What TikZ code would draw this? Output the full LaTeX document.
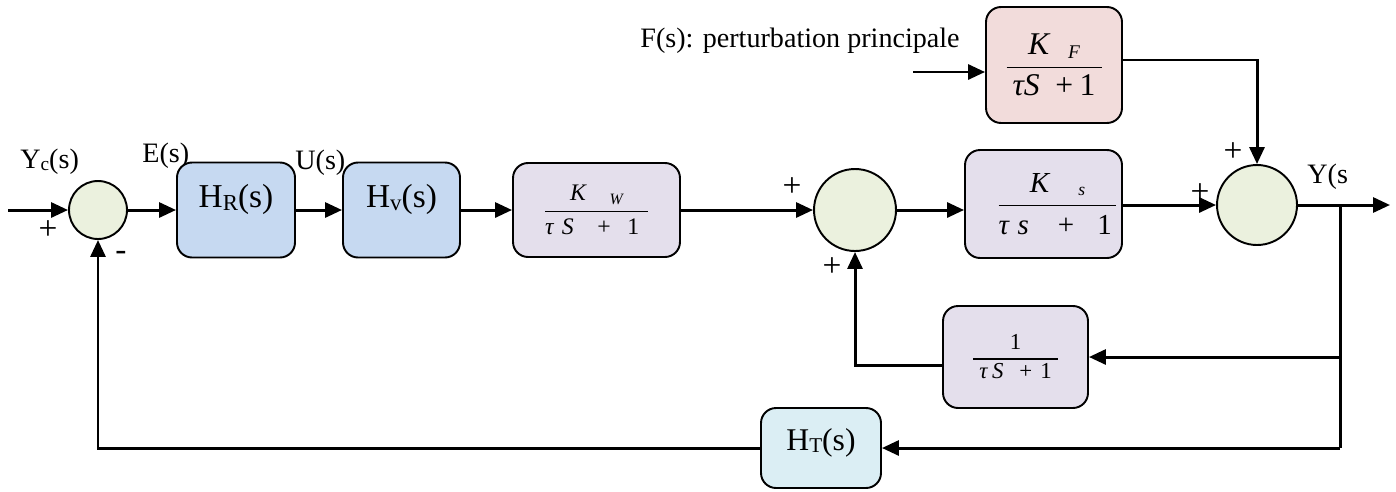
\documentclass[tikz,border=0pt]{standalone}
\usepackage{fontspec}
\setmainfont{Liberation Serif}
\usepackage{amsmath}
\usetikzlibrary{arrows.meta}

\definecolor{ctrlblue}{HTML}{C6D9F1}
\definecolor{procviolet}{HTML}{E4DFEC}
\definecolor{distpink}{HTML}{F2DCDB}
\definecolor{sensorcyan}{HTML}{DBEEF4}
\definecolor{sumgreen}{HTML}{EBF1DE}

% transfer function written as a fraction with a thin bar
\newcommand{\xferfrac}[2]{$\genfrac{}{}{0.8pt}{0}{\mbox{#1}}{\mbox{#2}}$}
\newcommand{\fsz}[1]{\fontsize{#1}{#1}\selectfont}

\tikzset{
  wire/.style={line width=1.7pt},
  arr/.style={wire,-{Triangle[length=0.34cm,width=0.3cm]}},
  blockbox/.style={draw,line width=1.1pt,rounded corners=0.3cm,inner sep=0pt},
  sumnode/.style={draw,circle,line width=1.1pt,fill=sumgreen,inner sep=0pt},
  hightext/.style={text height=0.5cm,text depth=0.62cm},
  lbl/.style={inner sep=0pt,font=\fsz{16}},
  sign/.style={inner sep=0pt,font=\fsz{19}}
}

\begin{document}
\begin{tikzpicture}[x=0.02cm,y=-0.02cm]
\useasboundingbox (0,0) rectangle (1396,491);

% summing junctions
\node[sumnode,minimum size=1.16cm] (s1) at (98,210) {};
\node[sumnode,minimum size=1.64cm] (s2) at (855,210) {};
\node[sumnode,minimum size=1.6cm]  (s3) at (1257,205) {};

% blocks
\node[blockbox,fill=ctrlblue,minimum width=2.36cm,minimum height=1.9cm,hightext,font=\fsz{19}]
  (hr) at (236,210) {H\raisebox{-0.2ex}{\fsz{13}R}(s)};
\node[blockbox,fill=ctrlblue,minimum width=2.34cm,minimum height=1.9cm,hightext,font=\fsz{19}]
  (hv) at (401.5,210) {H\raisebox{-0.2ex}{\fsz{13}v}(s)};
\node[blockbox,fill=procviolet,minimum width=3.34cm,minimum height=1.88cm,font=\fsz{13.5}]
  (kw) at (596.5,210)
  {\xferfrac{\itshape K\hspace{1.0em}\raisebox{-0.4ex}{\fsz{9}W}}
         {\makebox[2.06cm][l]{\itshape τ\hspace{0.35em}S\hspace{1.0em}\upshape +\hspace{0.7em}1}}};
\node[blockbox,fill=procviolet,minimum width=3.14cm,minimum height=2.16cm,font=\fsz{16.5}]
  (ks) at (1043.5,204)
  {\hspace*{0.56cm}\xferfrac{\itshape K\hspace{1.0em}\raisebox{-0.2ex}{\fsz{10}s}}
         {\makebox[2.36cm][l]{\itshape τ\hspace{0.3em}s\hspace{1.0em}\upshape +\hspace{0.8em}1}}};
\node[blockbox,fill=distpink,minimum width=2.72cm,minimum height=2.32cm,font=\fsz{18}]
  (fbox) at (1054,65)
  {\xferfrac{\itshape K\hspace{0.6em}\raisebox{-0.3ex}{\fsz{11}F}}
         {\makebox[1.9cm]{\itshape τS\hspace{0.5em}\upshape +\hspace{0.2em}1}}};
\node[blockbox,fill=procviolet,minimum width=2.9cm,minimum height=2.04cm,font=\fsz{13}]
  (fb) at (1015.5,357)
  {\xferfrac{1}{\makebox[1.7cm]{\itshape τ\hspace{0.2em}S\hspace{0.7em}\upshape +\hspace{0.35em}1}}};
\node[blockbox,fill=sensorcyan,minimum width=2.4cm,minimum height=1.6cm,font=\fsz{18},
      text height=0.5cm,text depth=0.42cm]
  (ht) at (821,448) {H\raisebox{-0.2ex}{\fsz{12}T}(s)};

% signal labels
\node[lbl,anchor=base west] (lyc) at (20,168) {Y\raisebox{-0.2ex}{\fsz{11}c}(s)};
\node[lbl,anchor=base west] (le) at (142,162) {E(s)};
\node[lbl,anchor=base west] (lu) at (295,169) {U(s)};
\node[lbl,anchor=base west] (ly) at (1307,183) {Y(s};
\node[lbl,anchor=base east,font=\fsz{16}] (lf) at (960,47) {F(s): perturbation principale};

% signs at the junction inputs
\node[sign] (p1) at (48,230) {+};
\node[sign] (m1) at (121,256) {-};
\node[sign] (p2) at (792,187) {+};
\node[sign] (p3) at (832,267) {+};
\node[sign] (p4) at (1233,152) {+};
\node[sign] (p5) at (1200,193) {+};

% free ends and bends
\coordinate (in1) at (8,210);
\coordinate (fin) at (913,72);
\coordinate (ftop) at (1257,60);
\coordinate (yout) at (1390,205);
\coordinate (br) at (1340,205);
\coordinate (brb) at (1340,448);
\coordinate (fbl) at (855,365);
\coordinate (htl) at (98,448);

% forward path
\draw[arr] (in1) -- (s1);
\draw[arr] (s1) -- (hr);
\draw[arr] (hr) -- (hv);
\draw[arr] (hv) -- (kw);
\draw[arr] (kw) -- (s2);
\draw[arr] (s2) -- (ks.west |- s2);
\draw[arr] (ks.east |- s3) -- (s3);
\draw[arr] (s3) -- (yout);

% disturbance
\draw[arr] (fin) -- (fbox.west |- fin);
\draw[arr] (fbox.east |- ftop) -- (ftop) -- (s3);

% feedback paths
\draw[wire] (br) -- (brb);
\draw[arr] (br |- fb) -- (fb);
\draw[arr] (fb.west |- fbl) -- (fbl) -- (s2);
\draw[arr] (brb) -- (ht);
\draw[arr] (ht) -- (htl) -- (s1);
\end{tikzpicture}
\end{document}
